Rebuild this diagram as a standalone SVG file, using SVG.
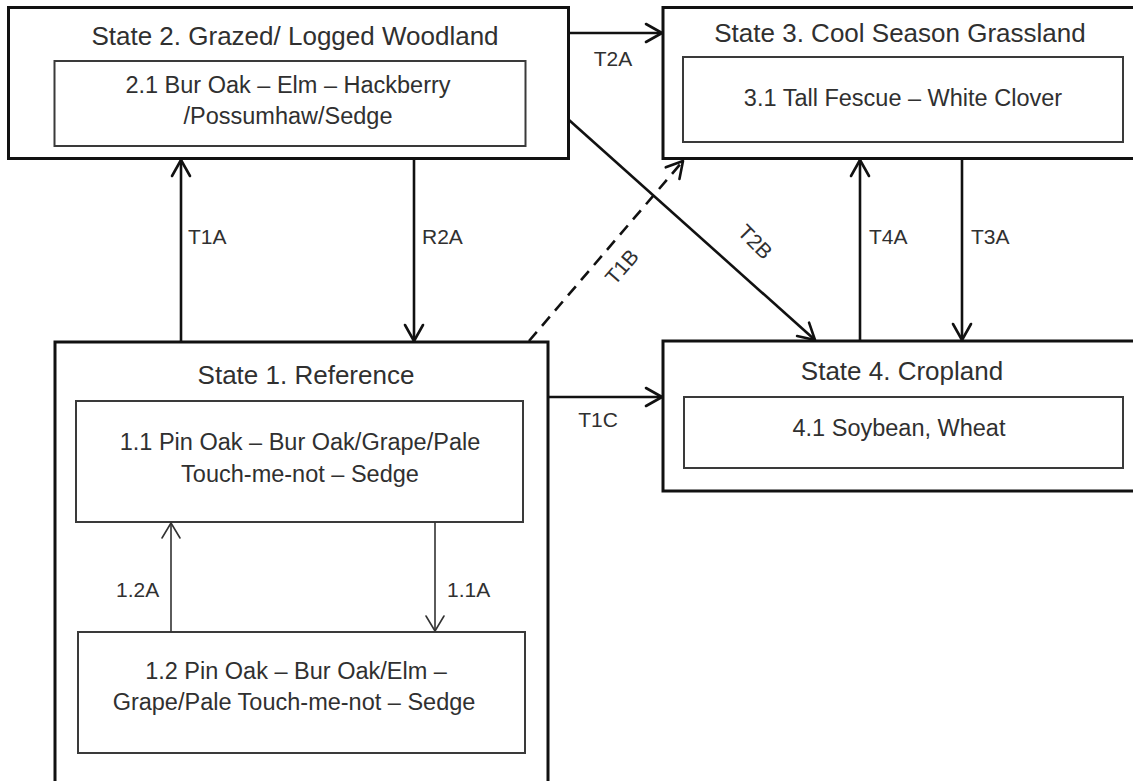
<svg xmlns="http://www.w3.org/2000/svg" width="1133" height="781" viewBox="0 0 1133 781">
  <style>
    .outer { fill: #ffffff; stroke: #111111; stroke-width: 3; }
    .inner { fill: #ffffff; stroke: #3a3a3a; stroke-width: 2; }
    .title { font-family: "Liberation Sans", Arial, sans-serif; font-size: 26px; fill: #303030; text-anchor: middle; }
    .body { font-family: "Liberation Sans", Arial, sans-serif; font-size: 23.5px; fill: #303030; text-anchor: middle; }
    .lbl { font-family: "Liberation Sans", Arial, sans-serif; font-size: 21px; fill: #303030; }
    .mid { text-anchor: middle; }
    .conn { fill: none; stroke: #111111; stroke-width: 2.6; }
    .thin { fill: none; stroke: #333333; stroke-width: 1.6; }
    .dash { stroke-dasharray: 12 8; }
  </style>
  <defs>
    <marker id="ah" markerUnits="userSpaceOnUse" markerWidth="24" markerHeight="26" viewBox="-20 -13 24 26" refX="0" refY="0" orient="auto">
      <path d="M-16,-9 L0,0 L-16,9" fill="none" stroke="#111111" stroke-width="2.6" stroke-linecap="round" stroke-linejoin="round"/>
    </marker>
    <marker id="ahs" markerUnits="userSpaceOnUse" markerWidth="24" markerHeight="26" viewBox="-20 -13 24 26" refX="0" refY="0" orient="auto">
      <path d="M-15,-9 L0,0 L-15,9" fill="none" stroke="#333333" stroke-width="1.6" stroke-linecap="round" stroke-linejoin="round"/>
    </marker>
  </defs>
  <rect x="0" y="0" width="1133" height="781" fill="#ffffff"/>

  <g id="state2">
    <rect class="outer" x="8.5" y="7.5" width="560" height="151"/>
    <text class="title" x="295" y="45">State 2. Grazed/ Logged  Woodland</text>
    <rect class="inner" x="54.5" y="61" width="471" height="85"/>
    <text class="body" x="288" y="93">2.1 Bur Oak – Elm – Hackberry</text>
    <text class="body" x="288" y="124">/Possumhaw/Sedge</text>
  </g>

  <g id="state3">
    <rect class="outer" x="663" y="7.5" width="480" height="151"/>
    <text class="title" x="900" y="42">State 3. Cool Season Grassland</text>
    <rect class="inner" x="683" y="57" width="440" height="85"/>
    <text class="body" x="903" y="106">3.1 Tall Fescue – White Clover</text>
  </g>

  <g id="state1">
    <rect class="outer" x="55" y="342" width="493" height="470"/>
    <text class="title" x="306" y="384">State 1. Reference</text>
  </g>

  <g id="phase11">
    <rect class="inner" x="76" y="401" width="447" height="121"/>
    <text class="body" x="300" y="450">1.1 Pin Oak – Bur Oak/Grape/Pale</text>
    <text class="body" x="300" y="482">Touch-me-not  – Sedge</text>
  </g>

  <g id="phase12">
    <rect class="inner" x="78" y="632" width="447" height="121"/>
    <text class="body" x="296" y="679">1.2 Pin Oak – Bur Oak/Elm –</text>
    <text class="body" x="294" y="710">Grape/Pale Touch-me-not  – Sedge</text>
  </g>

  <g id="state4">
    <rect class="outer" x="663" y="341" width="480" height="150"/>
    <text class="title" x="902" y="380">State 4. Cropland</text>
    <rect class="inner" x="684" y="397" width="439" height="71"/>
    <text class="body" x="899" y="436">4.1 Soybean, Wheat</text>
  </g>

  <g id="connectors">
    <line class="conn" x1="569" y1="33" x2="662" y2="33" marker-end="url(#ah)"/>
    <text class="lbl mid" x="613" y="66">T2A</text>

    <line class="conn" x1="181" y1="342" x2="181" y2="160" marker-end="url(#ah)"/>
    <text class="lbl" x="188" y="244">T1A</text>

    <line class="conn" x1="414" y1="159" x2="414" y2="341" marker-end="url(#ah)"/>
    <text class="lbl" x="422" y="244">R2A</text>

    <line class="conn dash" x1="529" y1="341" x2="683" y2="161" marker-end="url(#ah)"/>
    <text class="lbl mid" transform="translate(622,267) rotate(-49)" x="0" y="7">T1B</text>

    <line class="conn" x1="569" y1="120" x2="815" y2="340" marker-end="url(#ah)"/>
    <text class="lbl mid" transform="translate(755,242) rotate(45)" x="0" y="7">T2B</text>

    <line class="conn" x1="860" y1="341" x2="860" y2="160" marker-end="url(#ah)"/>
    <text class="lbl" x="869" y="244">T4A</text>

    <line class="conn" x1="962" y1="159" x2="962" y2="340" marker-end="url(#ah)"/>
    <text class="lbl" x="971" y="244">T3A</text>

    <line class="conn" x1="549" y1="397" x2="662" y2="397" marker-end="url(#ah)"/>
    <text class="lbl mid" x="598" y="427">T1C</text>

    <line class="thin" x1="171" y1="632" x2="171" y2="523" marker-end="url(#ahs)"/>
    <text class="lbl" x="116" y="597">1.2A</text>

    <line class="thin" x1="435" y1="522" x2="435" y2="631" marker-end="url(#ahs)"/>
    <text class="lbl" x="447" y="597">1.1A</text>
  </g>
</svg>
